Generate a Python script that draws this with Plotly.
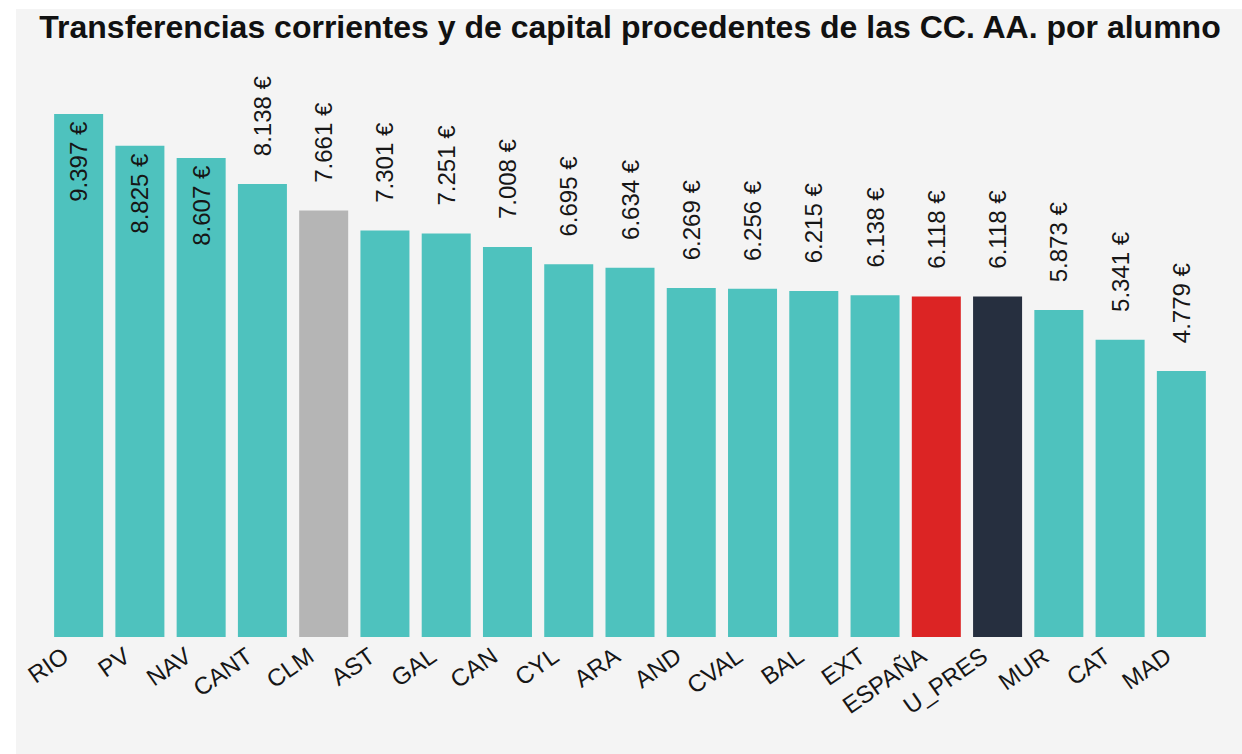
import plotly.graph_objects as go

# Transferencias por alumno (euros), ordenadas de mayor a menor
regiones = ["RIO", "PV", "NAV", "CANT", "CLM", "AST", "GAL", "CAN", "CYL", "ARA",
            "AND", "CVAL", "BAL", "EXT", "ESPAÑA", "U_PRES", "MUR", "CAT", "MAD"]
importes = [9397, 8825, 8607, 8138, 7661, 7301, 7251, 7008, 6695, 6634,
            6269, 6256, 6215, 6138, 6118, 6118, 5873, 5341, 4779]

# Colores por región
COLOR_BASE = "#4ec2be"
colores_especiales = {"CLM": "#b5b5b5", "ESPAÑA": "#dc2424", "U_PRES": "#262f3f"}
colores = [colores_especiales.get(r, COLOR_BASE) for r in regiones]

# Las barras más altas llevan la etiqueta dentro; el resto, encima
UMBRAL_DENTRO = 8500
posiciones = ["inside" if v > UMBRAL_DENTRO else "outside" for v in importes]
# Un pequeño margen separa la etiqueta del borde superior de la barra
plantillas = ["%{y:,.0f} €\u2009" if p == "inside" else "   \u2009%{y:,.0f} €"
              for p in posiciones]

FUENTE = "Liberation Sans, Arial, sans-serif"
TEXTO = "#161616"
TAM_ETIQUETA = 24

fig = go.Figure(
    go.Bar(
        x=regiones,
        y=importes,
        marker=dict(color=colores, line=dict(width=0)),
        texttemplate=plantillas,
        textposition=posiciones,
        insidetextanchor="end",
        textangle=-90,
        constraintext="none",
        cliponaxis=False,
        textfont=dict(family=FUENTE, size=TAM_ETIQUETA, color=TEXTO),
        insidetextfont=dict(family=FUENTE, size=TAM_ETIQUETA, color=TEXTO),
        outsidetextfont=dict(family=FUENTE, size=TAM_ETIQUETA, color=TEXTO),
        hoverinfo="skip",
    )
)

ML, MR, MT, MB = 48, 30, 50, 117
W, H = 1242, 754
pw, ph = W - ML - MR, H - MT - MB

def px_a_x(px):
    return (px - ML) / pw

def px_a_y(py):
    return (H - MB - py) / ph

fig.update_layout(
    width=W,
    height=H,
    margin=dict(l=ML, r=MR, t=MT, b=MB),
    paper_bgcolor="white",
    plot_bgcolor="rgba(0,0,0,0)",
    separators=",.",
    bargap=0.2,
    showlegend=False,
    title=dict(
        text="<b>Transferencias corrientes y de capital procedentes de las CC. AA. por alumno</b>",
        font=dict(family=FUENTE, size=32, color="#111111"),
        x=0.5,
        xref="paper",
        xanchor="center",
        y=1 - 27 / H,
        yref="container",
        yanchor="middle",
    ),
    xaxis=dict(
        tickangle=-35,
        tickfont=dict(family=FUENTE, size=24, color=TEXTO),
        ticklabelshift=-15,
        showgrid=False,
        zeroline=False,
        showline=False,
        ticks="",
    ),
    yaxis=dict(
        range=[0, 10546],
        visible=False,
        showgrid=False,
        zeroline=False,
    ),
    shapes=[
        dict(
            type="rect",
            xref="paper",
            yref="paper",
            x0=px_a_x(16),
            x1=px_a_x(W + 5),
            y0=px_a_y(H + 5),
            y1=px_a_y(9),
            fillcolor="#f4f4f4",
            line=dict(width=0),
            layer="below",
        )
    ],
)

fig.write_html("out.html")
